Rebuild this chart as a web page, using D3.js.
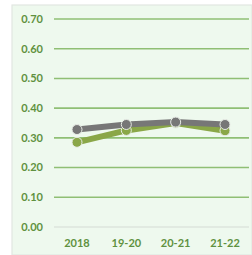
<!DOCTYPE html>
<html><head><meta charset="utf-8">
<script src="https://cdn.jsdelivr.net/npm/d3@7"></script>
<style>html,body{margin:0;padding:0;background:#fff;}svg{display:block;}</style>
</head><body>
<script>
const categories = ["2018", "19-20", "20-21", "21-22"];
const seriesGray = [0.328, 0.345, 0.353, 0.345];
const seriesGreen = [0.285, 0.325, 0.350, 0.324];
const yTicks = [0, 0.1, 0.2, 0.3, 0.4, 0.5, 0.6, 0.7];

const W = 252, H = 255;
const svg = d3.select("body").append("svg").attr("width", W).attr("height", H);
svg.append("rect").attr("x", 12).attr("y", 5).attr("width", W - 12).attr("height", H - 5)
  .attr("fill", "#eef9ee").attr("stroke", "#e2e6e2").attr("stroke-width", 1.2);

const y = d3.scaleLinear().domain([0, 0.7]).range([227, 19]);
const x = d3.scalePoint().domain(categories).range([77, 225]);

const gridL = 54, gridR = 249;
const g = svg.append("g");
yTicks.forEach(t => {
  g.append("line").attr("x1", gridL).attr("x2", gridR).attr("y1", y(t)).attr("y2", y(t))
    .attr("stroke", t === 0 ? "#dde5dd" : "#8fbf74").attr("stroke-width", 1.6);
  g.append("text").attr("x", 43).attr("y", y(t)).attr("dy", "0.35em").attr("text-anchor", "end")
    .attr("font-family", "Lato").attr("font-weight", "bold").attr("font-size", 11)
    .attr("fill", "#5f9140").text(t.toFixed(2));
});
categories.forEach(c => {
  g.append("text").attr("x", x(c)).attr("y", 243).attr("dy", "0.35em").attr("text-anchor", "middle")
    .attr("font-family", "Lato").attr("font-weight", "bold").attr("font-size", 11)
    .attr("fill", "#5f9140").text(c);
});

const line = d3.line().x((d, i) => x(categories[i])).y(d => y(d));
function drawSeries(vals, color) {
  svg.append("path").datum(vals).attr("d", line).attr("fill", "none")
    .attr("stroke", color).attr("stroke-width", 6);
  svg.selectAll(null).data(vals).enter().append("circle")
    .attr("cx", (d, i) => x(categories[i])).attr("cy", d => y(d)).attr("r", 5)
    .attr("fill", color).attr("stroke", "#e8ece6").attr("stroke-width", 1);
}
drawSeries(seriesGreen, "#8aa748");
drawSeries(seriesGray, "#777777");
</script>
</body></html>
